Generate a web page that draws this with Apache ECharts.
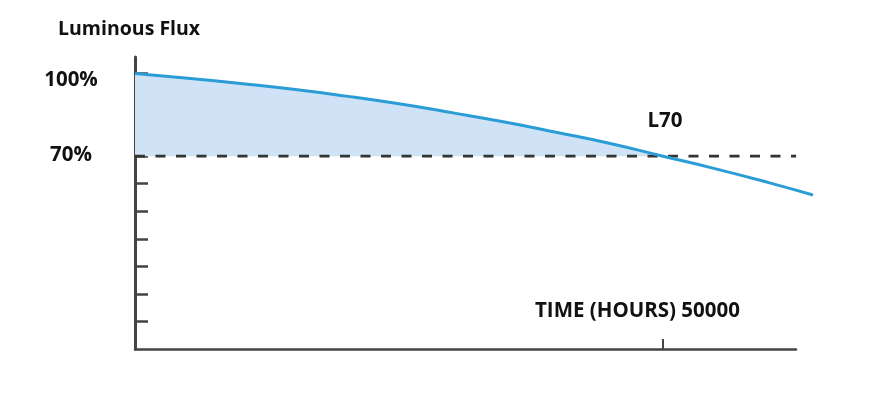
<!DOCTYPE html>
<html><head><meta charset="utf-8">
<script src="https://cdn.jsdelivr.net/npm/echarts@6/dist/echarts.min.js"></script>
<style>html,body{margin:0;padding:0;background:#fff}#c{width:889px;height:400px}</style>
</head><body><div id="c"></div>
<script>
const hours = [0, 5000, 10000, 15000, 20000, 25000, 30000, 35000, 40000, 45000, 50000, 55000, 60000, 64200];
const flux  = [100, 98.3, 96.4, 94.3, 91.8, 89.0, 85.8, 82.4, 78.6, 74.6, 70.0, 65.4, 60.4, 55.9];
const fillHours = hours.slice(0, 11);
const fillFlux = flux.slice(0, 11);
const yTicks = [10, 20, 30, 40, 50, 60, 70, 80, 90, 100];
const yLabels = [70, 100];
const xTicks = [50000];
const thresholdValue = 70;
const thresholdEnd = 62600;
const title = 'Luminous Flux';
const xTitle = 'TIME (HOURS) 50000';
const markText = 'L70';

const FONT = '"Open Sans"';
const chart = echarts.init(document.getElementById('c'));
chart.setOption({
  animation: false,
  title: { text: title, left: 53, top: 14, textStyle: { fontFamily: FONT, fontWeight: 'bold', fontSize: 19.5, color: '#111' } },
  grid: [
    { left: 135, right: 93, top: 57, bottom: 51 },
    { left: 135, right: 76, top: 57, bottom: 51 }
  ],
  xAxis: [{
    type: 'value', min: 0, max: 62600, gridIndex: 0,
    splitLine: { show: false },
    axisLine: { lineStyle: { color: '#444', width: 2.5 } },
    axisTick: { inside: true, length: 10, customValues: xTicks, lineStyle: { color: '#444', width: 2 } },
    axisLabel: { show: false }
  }, {
    type: 'value', min: 0, max: 64200, gridIndex: 1, show: false
  }],
  yAxis: [{
    type: 'value', min: 0, max: 106, gridIndex: 0,
    splitLine: { show: false },
    axisLine: { show: true, lineStyle: { color: '#444', width: 3 } },
    axisTick: { show: true, inside: true, length: 13, customValues: yTicks, lineStyle: { color: '#444', width: 2.5 } },
    axisLabel: {
      customValues: yLabels, align: 'center', margin: 64,
      formatter: v => (v === 100 ? '{a|' + v + '%}' : '{b|' + v + '%}'),
      rich: {
        a: { fontFamily: FONT, fontWeight: 'bold', fontSize: 20.5, color: '#111', padding: [14, 0, 0, 0] },
        b: { fontFamily: FONT, fontWeight: 'bold', fontSize: 20.5, color: '#111', padding: [0, 0, 2, 0] }
      }
    }
  }, {
    type: 'value', min: 0, max: 106, gridIndex: 1, show: false
  }],
  graphic: [{
    type: 'text', left: 535, top: 301,
    style: { text: xTitle, font: 'bold 20.5px "Open Sans"', fill: '#111' }
  }],
  series: [
    {
      type: 'line', xAxisIndex: 1, yAxisIndex: 1,
      data: fillHours.map((h, i) => [h, fillFlux[i]]), smooth: true, symbol: 'none',
      lineStyle: { width: 0, opacity: 0 },
      areaStyle: { color: '#cfe2f6', origin: thresholdValue, opacity: 1 }, z: 1
    },
    {
      type: 'line', xAxisIndex: 1, yAxisIndex: 1,
      data: [[0, thresholdValue], [thresholdEnd, thresholdValue]], symbol: 'none',
      lineStyle: { color: '#333', width: 2.7, type: [10, 10.5] }, z: 2
    },
    {
      type: 'line', xAxisIndex: 1, yAxisIndex: 1,
      data: hours.map((h, i) => [h, flux[i]]), smooth: true, symbol: 'none',
      lineStyle: { color: '#2b9dd6', width: 3 }, z: 3,
      markPoint: {
        symbol: 'circle', symbolSize: 0,
        data: [{ coord: [50000, 70] }],
        label: { show: true, formatter: markText, offset: [2, -35], fontFamily: FONT, fontWeight: 'bold', fontSize: 20.5, color: '#111' }
      }
    }
  ]
});
</script></body></html>
